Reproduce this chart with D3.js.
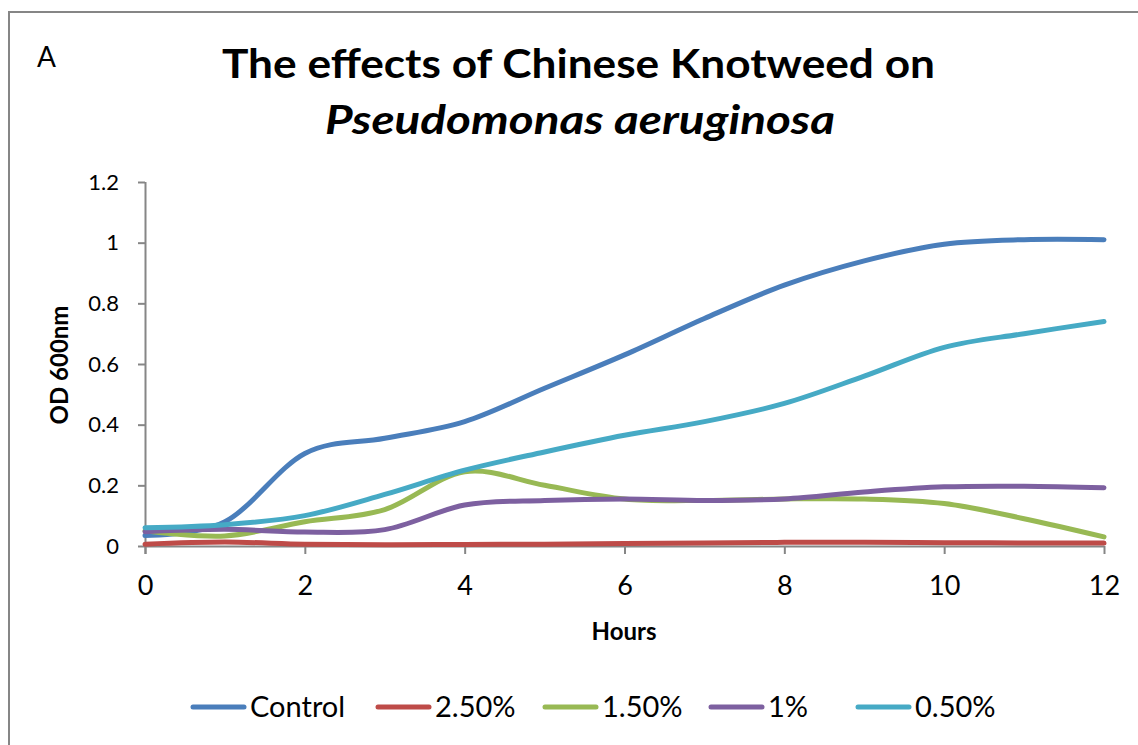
<!DOCTYPE html>
<html>
<head>
<meta charset="utf-8">
<script src="https://cdn.jsdelivr.net/npm/d3@7"></script>
<style>
  body { margin: 0; background: #fff; }
  svg { display: block; font-family: Lato, "Open Sans", sans-serif; }
</style>
</head>
<body>
<div class="container"></div>
<script>
const WIDTH = 1138;
const HEIGHT = 745;

// data
var hours = [0, 1, 2, 3, 4, 5, 6, 7, 8, 9, 10, 11, 12];
var control = [0.035, 0.08, 0.305, 0.355, 0.41, 0.52, 0.63, 0.75, 0.86, 0.94, 0.995, 1.01, 1.01];
var pct250 = [0.006, 0.013, 0.006, 0.004, 0.005, 0.006, 0.008, 0.01, 0.012, 0.012, 0.011, 0.01, 0.01];
var pct150 = [0.05, 0.033, 0.08, 0.12, 0.245, 0.2, 0.155, 0.15, 0.155, 0.155, 0.14, 0.09, 0.03];
var pct100 = [0.047, 0.055, 0.046, 0.054, 0.135, 0.15, 0.155, 0.15, 0.155, 0.178, 0.195, 0.197, 0.192];
var pct050 = [0.06, 0.07, 0.1, 0.17, 0.25, 0.31, 0.365, 0.41, 0.47, 0.56, 0.655, 0.7, 0.74];

var seriesNames = ["Control", "2.50%", "1.50%", "1%", "0.50%"];
var seriesColors = ["#4a7ebb", "#be4b48", "#98b954", "#7d60a0", "#46aac5"];
var seriesValues = [control, pct250, pct150, pct100, pct050];

var xTicks = [0, 2, 4, 6, 8, 10, 12];
var yTicks = [0, 0.2, 0.4, 0.6, 0.8, 1, 1.2];
var yTickLabels = ["0", "0.2", "0.4", "0.6", "0.8", "1", "1.2"];

var legendX = [193, 378, 545, 711, 858];

var AXIS = "#868686";

var svg = d3.select('.container').append('svg')
	.attr('width', WIDTH)
	.attr('height', HEIGHT);

// chart frame (right and bottom edges fall outside the crop)
svg.append('path')
	.attr('d', 'M9,760 L9,12 L1150,12')
	.attr('fill', 'none')
	.attr('stroke', AXIS)
	.attr('stroke-width', 2);

var xScale = d3.scaleLinear().domain([0, 12]).range([145, 1104]);
var yScale = d3.scaleLinear().domain([0, 1.2]).range([546, 182]);

// title
svg.append('text')
	.attr('x', 37).attr('y', 67)
	.attr('font-size', 28)
	.text('A');

svg.append('text')
	.attr('x', 222).attr('y', 78)
	.attr('font-size', 41).attr('font-weight', 'bold')
	.attr('textLength', 713).attr('lengthAdjust', 'spacingAndGlyphs')
	.text('The effects of Chinese Knotweed on');

svg.append('text')
	.attr('x', 325).attr('y', 134)
	.attr('font-size', 41).attr('font-weight', 'bold').attr('font-style', 'italic')
	.attr('textLength', 510).attr('lengthAdjust', 'spacingAndGlyphs')
	.text('Pseudomonas aeruginosa');

// axes
var yAxis = d3.axisLeft(yScale).tickValues(yTicks)
	.tickFormat(function(d, i){ return yTickLabels[i]; })
	.tickSize(7).tickSizeOuter(0).tickPadding(19);

var gy = svg.append('g').call(yAxis);
gy.select('.domain').attr('stroke', AXIS).attr('stroke-width', 2)
	.attr('d', 'M0.5,' + yScale(1.2) + 'V' + (yScale(0) + 8));
gy.selectAll('.tick line').attr('stroke', AXIS).attr('stroke-width', 2);
gy.selectAll('.tick text').attr('font-size', 22).attr('fill', '#000')
	.attr('font-family', 'Lato, "Open Sans", sans-serif');
gy.attr('transform', 'translate(' + xScale(0) + ',0)');

var xAxis = d3.axisBottom(xScale).tickValues(xTicks)
	.tickFormat(d3.format('d'))
	.tickSize(8).tickSizeOuter(0).tickPadding(22);

var gx = svg.append('g')
	.attr('transform', 'translate(0,' + yScale(0) + ')')
	.call(xAxis);
gx.select('.domain').attr('stroke', AXIS).attr('stroke-width', 2);
gx.selectAll('.tick line').attr('stroke', AXIS).attr('stroke-width', 2);
gx.selectAll('.tick text').attr('font-size', 27).attr('fill', '#000')
	.attr('font-family', 'Lato, "Open Sans", sans-serif');

// axis titles
svg.append('text')
	.attr('x', 624).attr('y', 640)
	.attr('text-anchor', 'middle')
	.attr('font-size', 24).attr('font-weight', 'bold')
	.text('Hours');

svg.append('text')
	.attr('transform', 'translate(68,365) rotate(-90)')
	.attr('text-anchor', 'middle')
	.attr('font-size', 24).attr('font-weight', 'bold')
	.text('OD 600nm');

// lines (Excel smoothed lines ~ cardinal with tension 0)
var line = d3.line()
	.x(function(d){ return xScale(d[0]); })
	.y(function(d){ return yScale(d[1]); })
	.curve(d3.curveCardinal.tension(0));

var plot = svg.append('g');
seriesValues.forEach(function(vals, s){
	plot.append('path')
		.datum(hours.map(function(h, i){ return [h, vals[i]]; }))
		.attr('d', line)
		.attr('fill', 'none')
		.attr('stroke', seriesColors[s])
		.attr('stroke-width', 5)
		.attr('stroke-linecap', 'round')
		.attr('stroke-linejoin', 'round');
});

// legend
var legend = svg.append('g');
seriesNames.forEach(function(name, i){
	legend.append('line')
		.attr('x1', legendX[i]).attr('x2', legendX[i] + 51)
		.attr('y1', 707).attr('y2', 707)
		.attr('stroke', seriesColors[i])
		.attr('stroke-width', 5)
		.attr('stroke-linecap', 'round');
	legend.append('text')
		.attr('x', legendX[i] + 57).attr('y', 717)
		.attr('font-size', 29)
		.text(name);
});
</script>
</body>
</html>
